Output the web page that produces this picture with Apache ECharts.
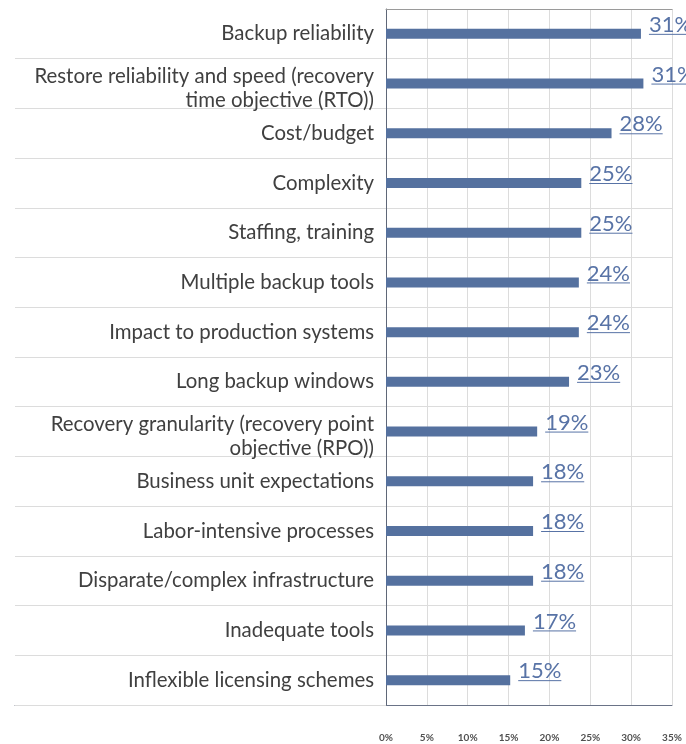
<!DOCTYPE html>
<html>
<head>
<meta charset="utf-8">
<script src="https://cdn.jsdelivr.net/npm/echarts@6/dist/echarts.min.js"></script>
<style>
  html, body { margin: 0; padding: 0; background: #fff; }
  #chart { width: 686px; height: 744px; }
</style>
</head>
<body>
<div id="chart"></div>
<script>
// categories, top to bottom
let categories = [
    'Backup reliability',
    'Restore reliability and speed (recovery\ntime objective (RTO))',
    'Cost/budget',
    'Complexity',
    'Staffing, training',
    'Multiple backup tools',
    'Impact to production systems',
    'Long backup windows',
    'Recovery granularity (recovery point\nobjective (RPO))',
    'Business unit expectations',
    'Labor-intensive processes',
    'Disparate/complex infrastructure',
    'Inadequate tools',
    'Inflexible licensing schemes'
];
// bar lengths (%)
let barValues = [31.2, 31.5, 27.6, 23.9, 23.9, 23.6, 23.6, 22.4, 18.5, 18.0, 18.0, 18.0, 17.0, 15.2];
// labels as printed next to the bars
let barLabels = ['31%', '31%', '28%', '25%', '25%', '24%', '24%', '23%', '19%', '18%', '18%', '18%', '17%', '15%'];
let tickValues = [0, 5, 10, 15, 20, 25, 30, 35];

(function(){
    let chart = echarts.init(document.getElementById('chart'));
    let measureCtx = document.createElement('canvas').getContext('2d');
    let labelFont = '22px Lato';
    let labelColor = '#5873a6';
    let xMin = tickValues[0], xMax = tickValues[tickValues.length - 1];

    let option = {
        animation: false,
        grid: [
            { left: 386, right: 14, top: 9, bottom: 39 },
            { left: 15, right: 14, top: 9, bottom: 39 }
        ],
        xAxis: [{
            type: 'value',
            gridIndex: 0,
            min: xMin,
            max: xMax,
            interval: 5,
            axisLine: { show: false },
            axisTick: { show: false },
            splitLine: { lineStyle: { color: '#dcdcdc', width: 1 } },
            axisLabel: {
                margin: 28,
                formatter: '{value}%',
                fontSize: 10,
                fontWeight: 'bold',
                color: '#505050',
                fontFamily: 'Lato'
            }
        }, {
            type: 'value',
            gridIndex: 1,
            axisLine: { show: true, onZero: false, lineStyle: { color: '#6a7387', width: 1 } },
            axisTick: { show: false },
            axisLabel: { show: false },
            splitLine: { show: false }
        }, {
            // top border of the plot
            type: 'value',
            gridIndex: 0,
            position: 'top',
            min: xMin,
            max: xMax,
            axisLine: { show: true, onZero: false, lineStyle: { color: '#9a9a9a', width: 1 } },
            axisTick: { show: false },
            axisLabel: { show: false },
            splitLine: { show: false }
        }],
        yAxis: [{
            type: 'category',
            gridIndex: 0,
            data: categories,
            inverse: true,
            axisLine: { show: true, lineStyle: { color: '#5f6778', width: 1 } },
            axisTick: {
                show: true,
                length: 371,
                interval: (idx)=> idx !== 0,
                lineStyle: { color: '#dcdcdc', width: 1 }
            },
            splitLine: { show: true, lineStyle: { color: '#dcdcdc', width: 1 } },
            axisLabel: {
                margin: 12,
                fontSize: 20.4,
                lineHeight: 24,
                color: '#404040',
                fontFamily: 'Lato',
                align: 'right',
                // two-line labels sit a little lower in their row
                formatter: (v)=> v.indexOf('\n') >= 0 ? '{s| }\n' + v : v,
                rich: {
                    s: { fontSize: 2, lineHeight: 10 }
                }
            }
        }, {
            type: 'value',
            gridIndex: 1,
            show: false
        }],
        series: [{
            type: 'bar',
            xAxisIndex: 0,
            yAxisIndex: 0,
            data: barValues,
            barWidth: 10,
            itemStyle: { color: '#55719f' },
            silent: true
        }, {
            type: 'custom',
            xAxisIndex: 0,
            yAxisIndex: 0,
            clip: false,
            silent: true,
            data: barValues.map((v, i)=>[v, i]),
            renderItem: function(params, api){
                let p = api.coord([api.value(0), api.value(1)]);
                let text = barLabels[params.dataIndex];
                measureCtx.font = labelFont;
                let w = measureCtx.measureText(text).width;
                let x = p[0] + 8;
                return {
                    type: 'group',
                    children: [{
                        type: 'text',
                        style: {
                            x: x,
                            y: p[1] - 9,
                            text: text,
                            font: labelFont,
                            fill: labelColor,
                            verticalAlign: 'middle',
                            align: 'left'
                        }
                    }, {
                        type: 'line',
                        shape: { x1: x, y1: p[1] + 0.5, x2: x + w, y2: p[1] + 0.5 },
                        style: { stroke: labelColor, lineWidth: 1 }
                    }]
                };
            }
        }]
    };
    chart.setOption(option);
})();
</script>
</body>
</html>
